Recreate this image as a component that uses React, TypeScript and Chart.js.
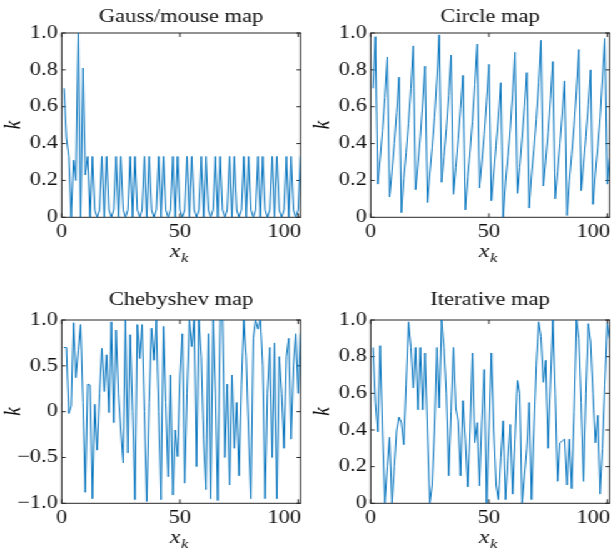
import React, { useEffect, useRef } from 'react';
import { Chart, registerables } from 'chart.js';

Chart.register(...registerables);

// ---------------- data (index k = 1..101) ----------------
const gaussValues = [
  0.70, 0.43, 0.33, 0, 0.31, 0.20, 1.00, 0, 0.81, 0.23, 0.33, 0, 0.33,
  0.04, 0, 0.04, 0.33, 0, 0.33,
  0.04, 0, 0.04, 0.33, 0, 0.33,
  0.04, 0, 0.04, 0.33, 0, 0.33,
  0.04, 0, 0.04, 0.33, 0, 0.33,
  0.04, 0, 0.04, 0.33, 0, 0.33,
  0.04, 0, 0.04, 0.33, 0, 0.33,
  0.04, 0, 0.04, 0.33, 0, 0.33,
  0.04, 0, 0.04, 0.33, 0, 0.33,
  0.04, 0, 0.04, 0.33, 0, 0.33,
  0.04, 0, 0.04, 0.33, 0, 0.33,
  0.04, 0, 0.04, 0.33, 0, 0.33,
  0.04, 0, 0.04, 0.33, 0, 0.33,
  0.04, 0, 0.04, 0.33, 0, 0.33,
  0.04, 0, 0.04, 0.33, 0, 0.33,
  0.04, 0, 0.04, 0.33,
];

const circleValues = [
  0.70, 0.98, 0.18, 0.32, 0.47, 0.65, 0.87, 0.11, 0.25, 0.40,
  0.57, 0.76, 0.025, 0.21, 0.35, 0.51, 0.70, 0.93, 0.15, 0.29,
  0.44, 0.62, 0.82, 0.08, 0.24, 0.38, 0.54, 0.75, 0.99, 0.19,
  0.33, 0.48, 0.66, 0.88, 0.125, 0.27, 0.42, 0.59, 0.77, 0.04,
  0.22, 0.36, 0.52, 0.72, 0.94, 0.16, 0.30, 0.45, 0.63, 0.83,
  0.09, 0.24, 0.39, 0.55, 0.73, 0.00, 0.19, 0.33, 0.48, 0.67,
  0.895, 0.13, 0.27, 0.43, 0.60, 0.785, 0.05, 0.23, 0.37, 0.53,
  0.73, 0.96, 0.17, 0.31, 0.46, 0.64, 0.845, 0.10, 0.25, 0.40,
  0.56, 0.74, 0.01, 0.20, 0.34, 0.50, 0.69, 0.91, 0.145, 0.29,
  0.44, 0.61, 0.80, 0.07, 0.24, 0.38, 0.54, 0.75, 0.97, 0.18,
  0.32,
];

const chebyshevValues = [
  0.70, 0.70, -0.02, 0.06, 0.97, 0.37, 0.67, 0.95, 0.10, -0.88,
  0.30, 0.29, -0.95, 0.08, -0.42, 0.20, 0.69, 0.22, 0.62, -0.01,
  0.98, -0.12, 0.89, 0.20, -0.20, -0.56, 1.00, -0.45, 0.84, 0.00,
  -0.96, 0.95, 0.58, 0.95, 0.00, -0.98, 0.10, 0.91, 0.56, 1.00,
  0.00, -0.96, 0.93, 0.10, -0.71, 0.40, -0.91, -0.20, -0.49, 0.40,
  0.85, -0.78, 0.20, 1.00, 0.71, 1.00, -0.60, 1.00, 0.60, -0.30,
  -0.85, 0.85, -0.95, 1.00, 0.20, -0.97, 1.00, 1.00, -0.50, 0.30,
  -0.80, 0.40, -0.40, 0.10, -0.70, 0.30, 1.00, 0.60, -0.20, -0.95,
  0.80, 1.00, 0.90, 1.00, 0.50, -0.95, 0.20, 0.70, -0.50, 0.75,
  -0.95, 0.60, 0.20, -0.40, 0.60, 0.80, -0.30, 0.50, 0.85, 0.20,
  0.85,
];

const iterativeValues = [
  0.85, 0.55, 0.39, 0.86, 0.40, 0.00, 0.20, 0.36, 0.00, 0.20,
  0.40, 0.47, 0.44, 0.32, 0.65, 0.99, 0.85, 0.63, 0.85, 0.51,
  0.85, 0.51, 0.82, 0.40, 0.00, 0.10, 0.40, 0.85, 0.52, 1.00,
  0.85, 0.60, 0.15, 0.50, 0.85, 0.52, 0.45, 0.15, 0.56, 0.35,
  0.09, 0.40, 0.82, 0.33, 0.44, 0.095, 0.45, 0.73, 0.00, 0.40,
  0.82, 0.40, 0.10, 0.02, 0.25, 0.45, 0.02, 0.25, 0.43, 0.05,
  0.35, 0.67, 0.60, 0.00, 0.15, 0.30, 0.55, 0.02, 0.40, 0.75,
  0.99, 0.91, 0.66, 0.78, 0.30, 0.65, 1.00, 0.60, 0.12, 0.33,
  0.34, 0.35, 0.10, 0.35, 0.08, 0.50, 1.00, 0.90, 0.55, 0.12,
  0.60, 0.98, 0.88, 0.60, 0.33, 0.48, 0.05, 0.30, 0.65, 0.98,
  0.90,
];

const plotTitles = ['Gauss/mouse map', 'Circle map', 'Chebyshev map', 'Iterative map'];
const xTickValues = [0, 50, 100];
const xMin = 0;
const xMax = 101;

// ---------------- styling ----------------
const FONT = '"Liberation Serif", "Times New Roman", serif';
const TEXT = '#111111';
const AXIS = '#262626';
const LINE = '#0072BD';
const LOGICAL_W = 490;
const STRETCH = 613 / LOGICAL_W;

Chart.defaults.font.family = FONT;

const fmt = (v: number) => {
  if (Math.abs(v) < 1e-9) return '0';
  return (v < 0 ? '\u2212' : '') + Math.abs(v).toFixed(1);
};

const axesPlugin = {
  id: 'boxAxes',
  beforeDatasetsDraw(chart: any) {
    const { ctx, chartArea: a, scales } = chart;
    const xs = scales.x;
    const ys = scales.y;
    ctx.save();
    ctx.strokeStyle = AXIS;
    ctx.lineWidth = 1;
    ctx.strokeRect(a.left, a.top, a.right - a.left, a.bottom - a.top);
    ctx.beginPath();
    xs.ticks.forEach((t: any) => {
      const p = xs.getPixelForValue(t.value);
      ctx.moveTo(p, a.bottom);
      ctx.lineTo(p, a.bottom - 4);
      ctx.moveTo(p, a.top);
      ctx.lineTo(p, a.top + 4);
    });
    ys.ticks.forEach((t: any) => {
      const p = ys.getPixelForValue(t.value);
      ctx.moveTo(a.left, p);
      ctx.lineTo(a.left + 3.2, p);
      ctx.moveTo(a.right, p);
      ctx.lineTo(a.right - 3.2, p);
    });
    ctx.stroke();
    ctx.restore();
  },
  afterDraw(chart: any) {
    const { ctx, chartArea: a, scales } = chart;
    const xs = scales.x;
    ctx.save();
    ctx.fillStyle = TEXT;
    ctx.font = `18px ${FONT}`;
    ctx.textBaseline = 'middle';
    const n = xs.ticks.length;
    xs.ticks.forEach((t: any, i: number) => {
      const p = xs.getPixelForValue(t.value);
      const last = i === n - 1;
      ctx.textAlign = last ? 'right' : 'center';
      ctx.fillText(String(t.value), last ? a.right + 0.5 : p, a.bottom + 15);
    });
    // x-axis title: x_k
    const cx = (a.left + a.right) / 2 - 1.5;
    ctx.textBaseline = 'alphabetic';
    ctx.textAlign = 'left';
    ctx.font = `italic 19px ${FONT}`;
    const wx = ctx.measureText('x').width;
    ctx.font = `italic 13px ${FONT}`;
    const wk = ctx.measureText('k').width;
    const x0 = cx - (wx + wk + 1) / 2;
    ctx.font = `italic 19px ${FONT}`;
    ctx.fillText('x', x0, a.bottom + 40);
    ctx.font = `italic 13px ${FONT}`;
    ctx.fillText('k', x0 + wx + 0.5, a.bottom + 44.5);
    // y-axis title: k
    ctx.translate(a.left - 38, (a.top + a.bottom) / 2);
    ctx.rotate(-Math.PI / 2);
    ctx.font = `italic 19px ${FONT}`;
    ctx.textAlign = 'center';
    ctx.textBaseline = 'middle';
    ctx.fillText('k', 0, 0);
    ctx.restore();
  },
};

type PanelSpec = {
  values: number[];
  title: string;
  left: number;
  top: number;
  width: number;
  height: number;
  yW: number;
  rightPad: number;
  xH: number;
  titleTop: number;
  titleBottom: number;
  yMin: number;
  yMax: number;
  yStep: number;
};

const panels: PanelSpec[] = [
  { values: gaussValues, title: plotTitles[0], left: 0, top: 0, width: 245, height: 275, yW: 49.32, rightPad: 4.71, xH: 57.7, titleTop: 6.6, titleBottom: 4.8, yMin: 0, yMax: 1, yStep: 0.2 },
  { values: circleValues, title: plotTitles[1], left: 245, top: 0, width: 245, height: 275, yW: 51.32, rightPad: 2.71, xH: 57.7, titleTop: 6.6, titleBottom: 4.8, yMin: 0, yMax: 1, yStep: 0.2 },
  { values: chebyshevValues, title: plotTitles[2], left: 0, top: 275, width: 245, height: 274, yW: 49.32, rightPad: 4.71, xH: 45.7, titleTop: 14.6, titleBottom: 8.8, yMin: -1, yMax: 1, yStep: 0.5 },
  { values: iterativeValues, title: plotTitles[3], left: 245, top: 275, width: 245, height: 274, yW: 51.32, rightPad: 2.71, xH: 45.7, titleTop: 14.6, titleBottom: 8.8, yMin: 0, yMax: 1, yStep: 0.2 },
];

function Panel({ spec }: { spec: PanelSpec }) {
  const ref = useRef<HTMLCanvasElement | null>(null);
  useEffect(() => {
    if (!ref.current) return;
    const chart = new Chart(ref.current, {
      type: 'line',
      data: {
        datasets: [
          {
            data: spec.values.map((v, i) => ({ x: i + 1, y: v })),
            borderColor: LINE,
            borderWidth: 1,
            pointRadius: 0,
            tension: 0,
            fill: false,
          },
        ],
      },
      options: {
        animation: false,
        responsive: false,
        devicePixelRatio: 1,
        layout: { padding: { left: 0, right: spec.rightPad, top: 0, bottom: 0 } },
        plugins: {
          legend: { display: false },
          tooltip: { enabled: false },
          title: {
            display: true,
            text: spec.title,
            color: TEXT,
            fullSize: false,
            font: { family: FONT, size: 18, weight: 'normal' },
            padding: { top: spec.titleTop, bottom: spec.titleBottom },
          },
        },
        scales: {
          x: {
            type: 'linear',
            min: xMin,
            max: xMax,
            ticks: { display: false },
            afterBuildTicks: (s: any) => {
              s.ticks = xTickValues.map((v) => ({ value: v }));
            },
            grid: { display: false, drawTicks: false },
            border: { display: false },
            afterFit: (s: any) => {
              s.height = spec.xH;
            },
          },
          y: {
            type: 'linear',
            min: spec.yMin,
            max: spec.yMax,
            ticks: {
              stepSize: spec.yStep,
              padding: 3,
              color: TEXT,
              font: { family: FONT, size: 18 },
              callback: (v: any) => fmt(Number(v)),
            },
            grid: { display: false, drawTicks: false },
            border: { display: false },
            afterFit: (s: any) => {
              s.width = spec.yW;
            },
          },
        },
      } as any,
      plugins: [axesPlugin],
    });
    return () => chart.destroy();
  }, [spec]);
  return (
    <canvas
      ref={ref}
      width={spec.width}
      height={spec.height}
      style={{
        position: 'absolute',
        left: spec.left,
        top: spec.top,
        width: spec.width + 'px',
        height: spec.height + 'px',
        display: 'block',
      }}
    />
  );
}

export default function App() {
  return (
    <div
      style={{
        position: 'absolute',
        left: 0,
        top: 0,
        width: LOGICAL_W,
        height: 549,
        background: '#ffffff',
        transform: `scaleX(${STRETCH})`,
        transformOrigin: '0 0',
      }}
    >
      {panels.map((p) => (
        <Panel key={p.title} spec={p} />
      ))}
    </div>
  );
}
